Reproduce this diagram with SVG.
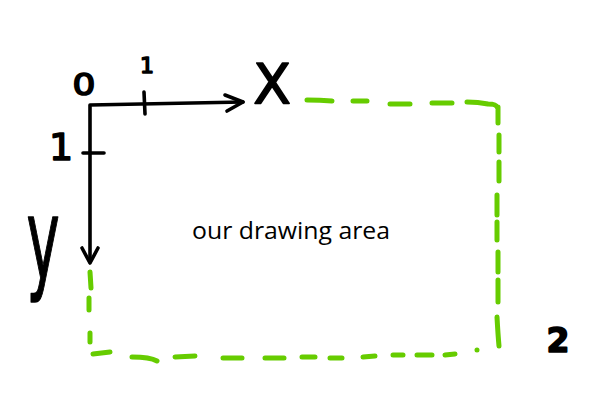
<svg xmlns="http://www.w3.org/2000/svg" width="606" height="408" viewBox="0 0 606 408">
<style>
.ink{fill:none;stroke:#000;stroke-width:3.6;stroke-linecap:round;stroke-linejoin:round}
.dash{fill:none;stroke:#66cc00;stroke-width:5;stroke-linecap:round;stroke-linejoin:round}
.hand{font-family:"DejaVu Sans",sans-serif;fill:#000;stroke:#000;stroke-width:1.6;stroke-linejoin:round}
.label{font-family:"Open Sans","Noto Sans",sans-serif;fill:#000}
</style>
<rect width="606" height="408" fill="#fff"/>
<g id="drawing-area">
<path class="dash" d="M307 100 Q320 100 332 101 M353 101 L367 101 M390 104 L410 104 M432 103 L452 103 M467 102 Q478 102 488 104 Q496 104 497 107 M498 107 L498 123 M499 135 L499 152 M499 162 L499 181 M497 195 L497 215 M497 222 L497 240 M498 252 L498 272 M498 280 L498 302 M497 317 Q498 335 499 346 M477 350 L477 350 M455 354 L445 355 M432 355 L417 355 M403 355 L393 355 M375 356 L363 357 M342 358 L330 358 M315 357 L302 357 M284 358 L265 358 M242 358 L223 358 M195 356 L175 357 M157 361 Q150 357 132 357 M110 352 L93 354 M90 342 L90 333 M89 310 L89 298 M91 288 L90 272"/>
<text class="label" x="291" y="239" font-size="24" text-anchor="middle" textLength="198" lengthAdjust="spacingAndGlyphs">our drawing area</text>
</g>
<g id="axes">
<path class="ink" d="M90 262 L90 105 L243 102"/>
<path class="ink" d="M82 248 L90 263 L98 248"/>
<path class="ink" d="M225 95 L243 102 L227 111"/>
<path class="ink" d="M144 92 L145 114"/>
<path class="ink" d="M83 153 L104 153"/>
</g>
<g id="labels">
<text class="hand" transform="translate(84,95) scale(1.2,1)" font-size="30" text-anchor="middle">0</text>
<text class="hand" x="147" y="73" font-size="22" text-anchor="middle">1</text>
<text class="hand" x="61" y="160" font-size="38" text-anchor="middle">1</text>
<text class="hand" x="272" y="103" font-size="55" text-anchor="middle">X</text>
<text class="hand" transform="translate(43,279) scale(0.5,1)" font-size="112" text-anchor="middle">y</text>
<text class="hand" x="558" y="352" font-size="33" font-weight="bold" text-anchor="middle">2</text>
</g>
</svg>
